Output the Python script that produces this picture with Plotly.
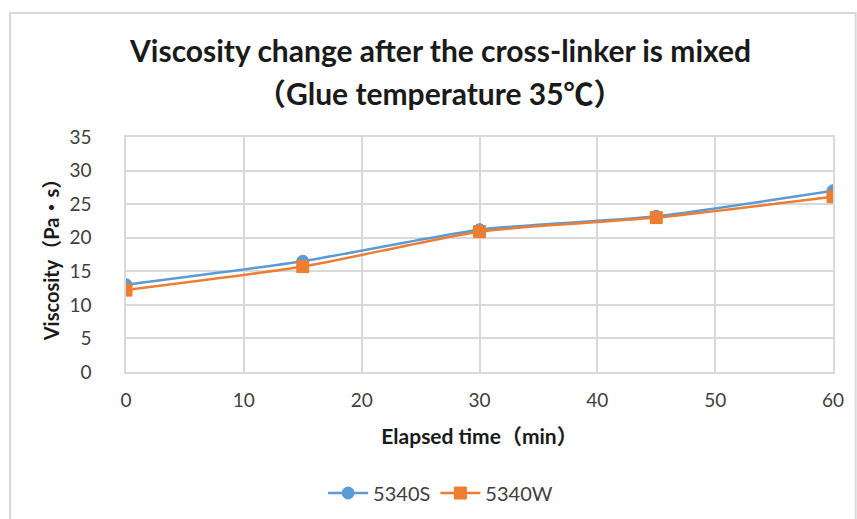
import plotly.graph_objects as go

# Elapsed time after mixing (min) and measured viscosity (Pa·s)
elapsed_min = [0, 15, 30, 45, 60]
visc_5340S = [13.0, 16.5, 21.2, 23.2, 27.0]
visc_5340W = [12.2, 15.7, 20.9, 23.0, 26.1]

x_ticks = [0, 10, 20, 30, 40, 50, 60]
y_ticks = [0, 5, 10, 15, 20, 25, 30, 35]

title_line1 = "Viscosity change after the cross-linker is mixed"
title_line2 = "（Glue temperature 35℃）"

FONT = "Lato, Noto Sans CJK JP, sans-serif"
BLUE = "#5B9BD5"
ORANGE = "#ED7D31"

fig = go.Figure()
fig.add_trace(go.Scatter(
    x=elapsed_min, y=visc_5340S, name="5340S", mode="lines+markers",
    line=dict(color=BLUE, width=2.5, shape="spline", smoothing=0.6),
    marker=dict(symbol="circle", size=12, color=BLUE, line=dict(color=BLUE, width=1)),
))
fig.add_trace(go.Scatter(
    x=elapsed_min, y=visc_5340W, name="5340W", mode="lines+markers",
    line=dict(color=ORANGE, width=2.5, shape="spline", smoothing=0.6),
    marker=dict(symbol="square", size=12, color=ORANGE, line=dict(color=ORANGE, width=1)),
))

fig.update_layout(
    width=857, height=519,
    paper_bgcolor="white", plot_bgcolor="white",
    margin=dict(l=126, r=24, t=137, b=147, autoexpand=False),
    font=dict(family=FONT, color="#404040"),
    legend=dict(
        orientation="h", x=0.445, xanchor="center", y=-0.515, yanchor="middle",
        font=dict(family=FONT, size=20, color="#404040"),
        itemwidth=40,
    ),
    showlegend=True,
)

# Two-line chart title
for text, ypx in [(title_line1, 50), (title_line2, 93)]:
    fig.add_annotation(
        text=text, xref="paper", yref="paper",
        x=(440 - 126) / 707, y=(372 - ypx) / 235,
        xanchor="center", yanchor="middle", showarrow=False,
        font=dict(family=FONT, size=30, color="#1a1a1a", weight="bold"),
    )

fig.update_xaxes(
    range=[0, 60], tickvals=x_ticks, ticks="", automargin=False,
    showgrid=True, gridcolor="#D9D9D9", gridwidth=1.5,
    showline=True, linecolor="#D9D9D9", linewidth=1.5, mirror=True,
    zeroline=False, ticklabelstandoff=10,
    tickfont=dict(family=FONT, size=19, color="#404040"),
    title=dict(text="Elapsed time（min）", standoff=20,
               font=dict(family=FONT, size=21, color="#1a1a1a", weight="bold")),
)
fig.update_yaxes(
    range=[0, 35], tickvals=y_ticks, ticks="", automargin=False,
    showgrid=True, gridcolor="#D9D9D9", gridwidth=1.5,
    showline=True, linecolor="#D9D9D9", linewidth=1.5, mirror=True,
    zeroline=False, ticklabelstandoff=29,
    tickfont=dict(family=FONT, size=19, color="#404040"),
    title=dict(text="Viscosity（Pa・s）", standoff=4,
               font=dict(family=FONT, size=20, color="#1a1a1a", weight="bold")),
)

# Outer chart-area frame
fig.add_shape(type="rect", xref="paper", yref="paper",
              x0=-0.164, x1=1.032, y0=-0.75, y1=1.528,
              line=dict(color="#D9D9D9", width=2), fillcolor="rgba(0,0,0,0)",
              layer="below")

fig.write_html("out.html")
